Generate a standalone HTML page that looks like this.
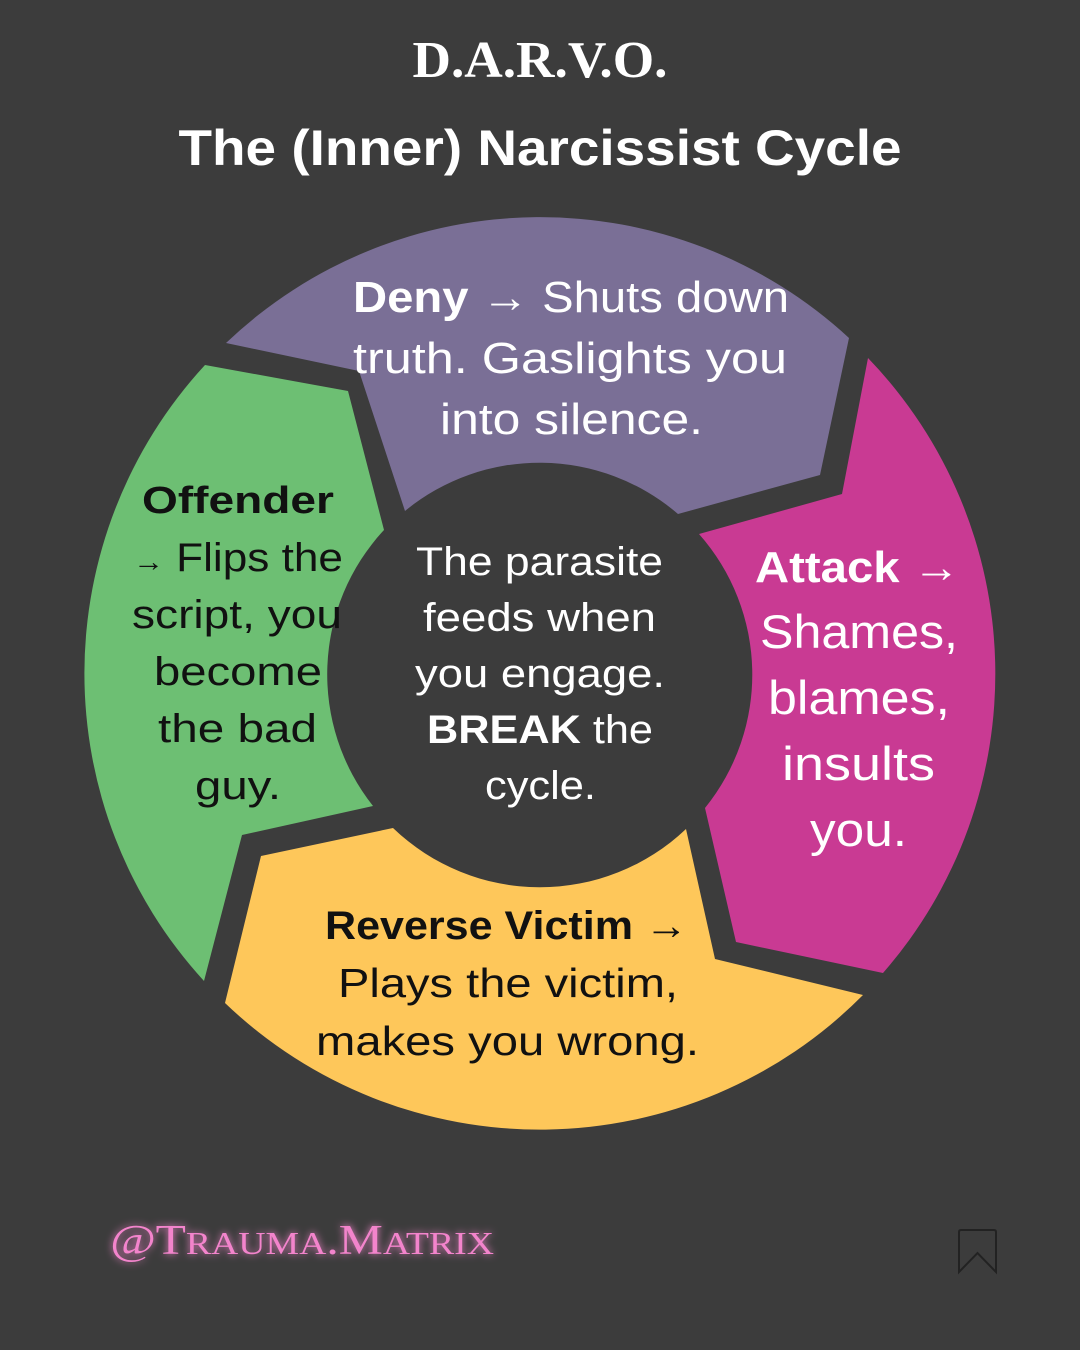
<!DOCTYPE html>
<html><head><meta charset="utf-8"><style>
html,body{margin:0;padding:0;background:#3c3c3c;}
svg{display:block}
</style></head><body>
<svg width="1080" height="1350" viewBox="0 0 1080 1350" xmlns="http://www.w3.org/2000/svg">
<defs>
<filter id="glow" x="-20%" y="-50%" width="140%" height="200%">
<feGaussianBlur stdDeviation="4" result="b"/>
<feMerge><feMergeNode in="b"/><feMergeNode in="SourceGraphic"/></feMerge>
</filter>
</defs>
<rect width="1080" height="1350" fill="#3c3c3c"/>
<text x="540" y="77" text-anchor="middle" font-family="Liberation Serif, serif" font-weight="bold" font-size="52" fill="#fff" textLength="255" lengthAdjust="spacingAndGlyphs">D.A.R.V.O.</text>
<text x="540" y="165" text-anchor="middle" font-family="Liberation Sans, sans-serif" font-weight="bold" font-size="50" fill="#fff" textLength="723" lengthAdjust="spacingAndGlyphs">The (Inner) Narcissist Cycle</text>

<path d="M226,343 A455,455 0 0 1 849,338 L820,475 L678,514 A212,212 0 0 0 405,511 L359,371 Z" fill="#7a6f96"/>
<path d="M868,358 A455,455 0 0 1 883,973 L736,942 L705,808 A212,212 0 0 0 699,534 L842,494 Z" fill="#c93a93"/>
<path d="M863,995 A455,455 0 0 1 225,1003 L261,856 L393,828 A212,212 0 0 0 686,829 L715,959 Z" fill="#fec75a"/>
<path d="M204,981 A455,455 0 0 1 205,365 L348,391 L384,530 A212,212 0 0 0 373,806 L242,835 Z" fill="#6dbf73"/>

<g font-family="Liberation Sans, sans-serif">
<g fill="#fff" font-size="44">
<text x="353" y="312" textLength="436" lengthAdjust="spacingAndGlyphs"><tspan font-weight="bold">Deny →</tspan> Shuts down</text>
<text x="353" y="373" textLength="434" lengthAdjust="spacingAndGlyphs">truth. Gaslights you</text>
<text x="440" y="434" textLength="263" lengthAdjust="spacingAndGlyphs">into silence.</text>
</g>
<g fill="#fff" font-size="47">
<text x="755" y="582" font-weight="bold" font-size="44" textLength="205" lengthAdjust="spacingAndGlyphs">Attack →</text>
<text x="760" y="648" textLength="198" lengthAdjust="spacingAndGlyphs">Shames,</text>
<text x="768" y="714" textLength="182" lengthAdjust="spacingAndGlyphs">blames,</text>
<text x="782" y="780" textLength="153" lengthAdjust="spacingAndGlyphs">insults</text>
<text x="810" y="846" textLength="97" lengthAdjust="spacingAndGlyphs">you.</text>
</g>
<g fill="#fff" font-size="40">
<text x="416" y="575" textLength="247" lengthAdjust="spacingAndGlyphs">The parasite</text>
<text x="423" y="631" textLength="233" lengthAdjust="spacingAndGlyphs">feeds when</text>
<text x="415" y="687" textLength="250" lengthAdjust="spacingAndGlyphs">you engage.</text>
<text x="427" y="743" textLength="226" lengthAdjust="spacingAndGlyphs"><tspan font-weight="bold">BREAK</tspan> the</text>
<text x="485" y="799" textLength="111" lengthAdjust="spacingAndGlyphs">cycle.</text>
</g>
<g fill="#111" font-size="40">
<text x="142" y="513" font-weight="bold" font-size="38" textLength="192" lengthAdjust="spacingAndGlyphs">Offender</text>
<text x="133" y="571" textLength="210" lengthAdjust="spacingAndGlyphs"><tspan font-size="28">→</tspan> Flips the</text>
<text x="132" y="628" textLength="210" lengthAdjust="spacingAndGlyphs">script, you</text>
<text x="154" y="685" textLength="168" lengthAdjust="spacingAndGlyphs">become</text>
<text x="158" y="742" textLength="159" lengthAdjust="spacingAndGlyphs">the bad</text>
<text x="195" y="799" textLength="86" lengthAdjust="spacingAndGlyphs">guy.</text>
</g>
<g fill="#111" font-size="41">
<text x="325" y="939" font-weight="bold" font-size="40" textLength="363" lengthAdjust="spacingAndGlyphs">Reverse Victim →</text>
<text x="338" y="997" textLength="340" lengthAdjust="spacingAndGlyphs">Plays the victim,</text>
<text x="316" y="1055" textLength="383" lengthAdjust="spacingAndGlyphs">makes you wrong.</text>
</g>
</g>

<text x="110" y="1254" font-family="Liberation Serif, serif" font-size="42" fill="#f384cc" filter="url(#glow)" textLength="384" lengthAdjust="spacingAndGlyphs"><tspan font-style="italic">@</tspan>T<tspan font-size="32">RAUMA</tspan>.M<tspan font-size="32">ATRIX</tspan></text>

<path d="M959,1272 L959,1232 Q959,1230 961,1230 L994,1230 Q996,1230 996,1232 L996,1272 L977.5,1253 Z" fill="none" stroke="#222" stroke-width="2"/>
</svg>
</body></html>
